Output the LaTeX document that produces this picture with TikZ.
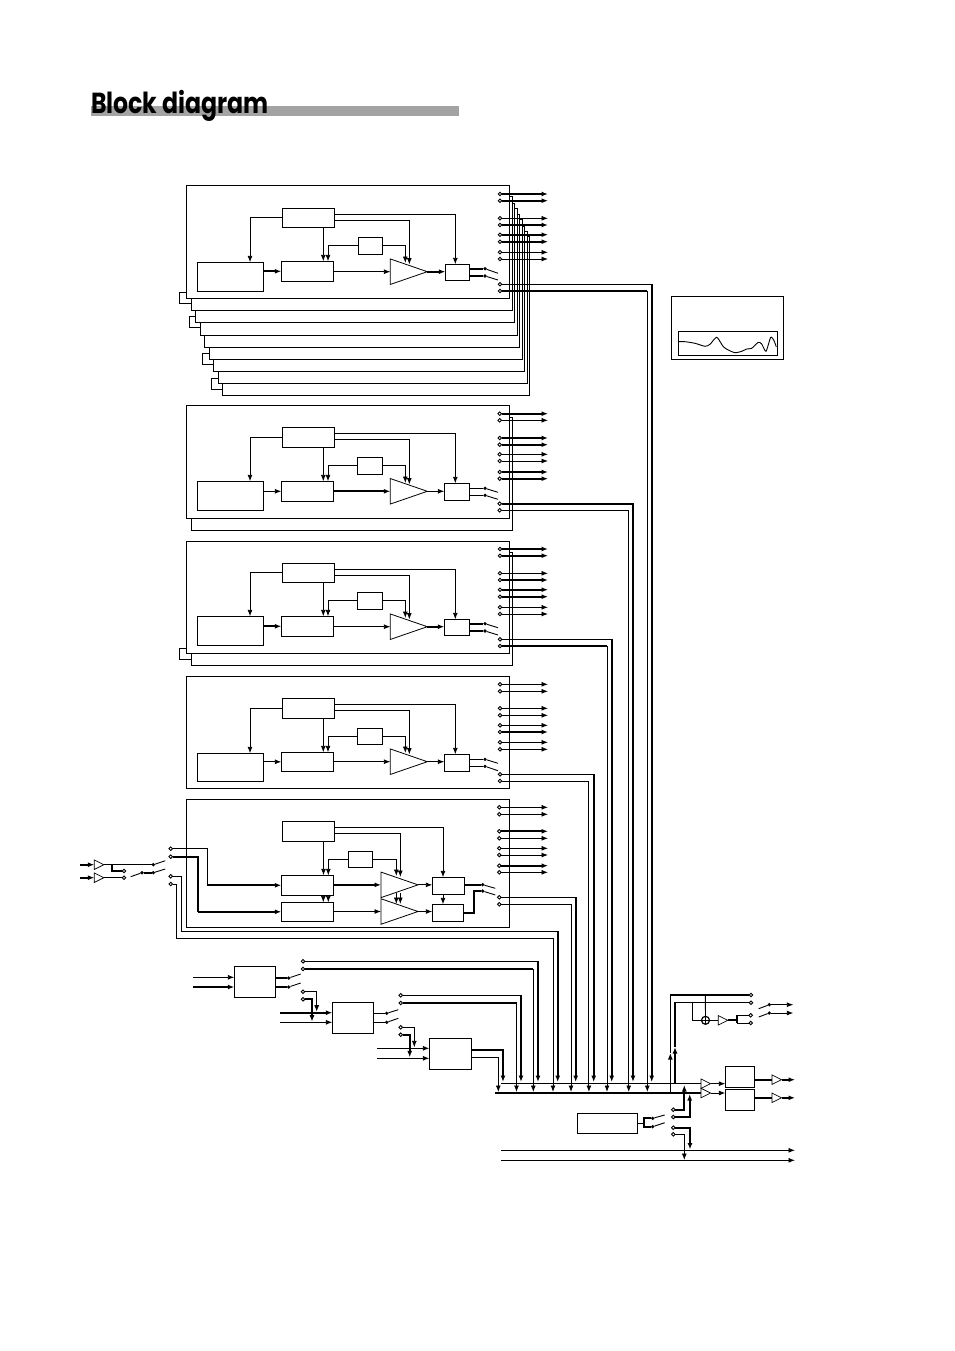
\documentclass[tikz,border=0pt]{standalone}
\usepackage{fontspec}
\usepackage{tikz}
\usetikzlibrary{arrows.meta, fit, shapes.geometric}
\newfontfamily\headfont[FakeStretch=0.815]{Poppins}

\begin{document}
\begin{tikzpicture}[x=1pt,y=-1pt]
\tikzstyle{every node}+=[inner sep=0pt, outer sep=0pt]
\tikzstyle{wire}=[black, line width=0.9pt]
\tikzstyle{fat}=[black, line width=2pt]
\tikzstyle{sig}=[-{Latex[length=6.5pt,width=5pt]}]
\tikzstyle{blk}=[draw, fill=white, rectangle, line width=1pt]
\tikzstyle{term}=[draw, fill=white, circle, minimum size=3.6pt, line width=0.9pt]
\tikzstyle{pivot}=[fill=black, circle, minimum size=3.6pt]
\tikzstyle{gain}=[draw, fill=white, isosceles triangle, isosceles triangle stretches, anchor=lower side, line width=0.8pt, minimum width=25.5pt, minimum height=37pt]
\tikzstyle{tiny}=[draw, fill=white, isosceles triangle, isosceles triangle stretches, anchor=lower side, line width=0.7pt, minimum width=9.5pt, minimum height=9.5pt]
\useasboundingbox (0,0) rectangle (954,1351);

% heading
\node [fill=black!36, fit={(91,106) (459,115.7)}] (bar) {};
\node [anchor=base west, font=\headfont\bfseries\fontsize{29}{29}\selectfont] (head) at (91,113.5) {Block diagram};

% common ends
\coordinate (endo) at (548,0);
\coordinate (endq) at (793.3,0);
\coordinate (endr) at (795,0);

% bus drops
\coordinate (v1a) at (651.7,1082);
\coordinate (v1b) at (647.3,1092);
\coordinate (v2a) at (633,1082);
\coordinate (v2b) at (628.7,1092);
\coordinate (v3a) at (611.7,1082);
\coordinate (v3b) at (607,1092);
\coordinate (v4a) at (593.7,1082);
\coordinate (v4b) at (588.9,1092);
\coordinate (v5a) at (575.7,1082);
\coordinate (v5b) at (571,1092);
\coordinate (v6a) at (557.7,1082);
\coordinate (v6b) at (553,1092);
\coordinate (v7a) at (538,1082);
\coordinate (v7b) at (533.3,1092);
\coordinate (v8a) at (521,1082);
\coordinate (v8b) at (516.5,1092);
\coordinate (v9a) at (503,1082);
\coordinate (v9b) at (498.3,1092);

% stacked frames
\node [blk, fit={(222.3,236) (529.3,395.3)}] (st8) {};
\node [blk, fit={(218.3,231) (527.5,383.3)}] (st7) {};
\node [blk, fit={(213.3,226) (524.3,371.3)}] (st6) {};
\node [blk, fit={(209.3,219.3) (522.5,359.3)}] (st5) {};
\node [blk, fit={(204.3,214.3) (519.5,347.3)}] (st4) {};
\node [blk, fit={(200.3,208.3) (517.5,335)}] (st3) {};
\node [blk, fit={(195.3,203.3) (514.3,322.3)}] (st2) {};
\node [blk, fit={(191.3,196.7) (512.5,310.3)}] (st1) {};
\draw [wire] (186.3,292.3) -- (179.7,292.3) -- (179.7,303.3) -- (191.3,303.3);
\draw [wire] (195.3,316.3) -- (189.3,316.3) -- (189.3,327) -- (200.3,327);
\draw [wire] (209.3,353.3) -- (202.7,353.3) -- (202.7,364) -- (213.3,364);
\draw [wire] (218.3,378.7) -- (211.3,378.7) -- (211.3,389.3) -- (222.3,389.3);

% strip 1
\node [blk, fit={(186.3,186) (509.3,298.3)}] (main1) {};
\node [blk, fit={(282.3,208.3) (334.3,227.3)}] (ctrl1) {};
\node [blk, fit={(197.3,262.3) (263.7,291.3)}] (gen1) {};
\node [blk, fit={(281.3,261.3) (333.7,281.3)}] (filt1) {};
\node [blk, fit={(358.3,237.3) (382.7,254.3)}] (lfo1) {};
\node [gain] (amp1) at (390.3,271.7) {};
\node [blk, fit={(445.3,264.3) (469.7,280.3)}] (pan1) {};
\coordinate (cv1a) at (405.3,263);
\coordinate (cv1b) at (409.3,264.5);
\draw [wire,sig] (ctrl1.west) -| ([xshift=19.5]gen1.north);
\draw [wire,sig] ([xshift=15]ctrl1.south) -- ([xshift=15]ctrl1.south |- filt1.north);
\draw [wire,sig] (lfo1.west) -| ([xshift=20.5]filt1.north);
\draw [wire,sig] (lfo1.east) -| (cv1a);
\draw [wire,sig] ([yshift=-2.5]ctrl1.east) -| (cv1b);
\draw [wire,sig] ([yshift=3.5]ctrl1.east) -| ([xshift=-2.2]pan1.north);
\draw [fat,sig] (gen1.east |- filt1.west) -- (filt1.west);
\draw [wire,sig] (filt1.east |- amp1.lower side) -- (amp1.lower side);
\draw [fat,sig] (amp1.apex) -- (pan1.west |- amp1.apex);
\node [pivot] (d1a) at (485,268.7) {};
\node [pivot] (d1b) at (485,276) {};
\coordinate (b1a) at (498,273.3);
\coordinate (b1b) at (498,280);
\draw [fat] (pan1.east |- d1a) -- (d1a);
\draw [fat] (pan1.east |- d1b) -- (d1b);
\draw [wire] (d1a) -- (b1a);
\draw [wire] (d1b) -- (b1b);
\node [term] (o1a) at (500,194) {};
\node [term] (o1b) at (500,200.7) {};
\node [term] (o1c) at (500,218.3) {};
\node [term] (o1d) at (500,225) {};
\node [term] (o1e) at (500,234.7) {};
\node [term] (o1f) at (500,241.7) {};
\node [term] (o1g) at (500,252.3) {};
\node [term] (o1h) at (500,259) {};
\node [term] (s1a) at (500,284.3) {};
\node [term] (s1b) at (500,291) {};
\draw [fat,sig] (o1a) -- (o1a -| endo);
\draw [fat,sig] (o1b) -- (o1b -| endo);
\draw [wire,sig] (o1c) -- (o1c -| endo);
\draw [fat,sig] (o1d) -- (o1d -| endo);
\draw [fat,sig] (o1e) -- (o1e -| endo);
\draw [fat,sig] (o1f) -- (o1f -| endo);
\draw [wire,sig] (o1g) -- (o1g -| endo);
\draw [wire,sig] (o1h) -- (o1h -| endo);
\draw [wire] (s1a) -- (v1a |- s1a);
\draw [fat,sig] (v1a |- s1a) -- (v1a);
\draw [fat] (s1b) -- (v1b |- s1b);
\draw [wire,sig] (v1b |- s1b) -- (v1b);

% strip 2
\node [blk, fit={(191.3,417.3) (512.3,530)}] (back2) {};
\node [blk, fit={(186.3,405.3) (509.3,518.3)}] (main2) {};
\node [blk, fit={(282.3,427.3) (334.3,447.3)}] (ctrl2) {};
\node [blk, fit={(197.3,481.3) (263.7,510.3)}] (gen2) {};
\node [blk, fit={(281.3,481.3) (333.7,501.3)}] (filt2) {};
\node [blk, fit={(357.3,457.3) (382.7,474.3)}] (lfo2) {};
\node [gain] (amp2) at (390.3,491.3) {};
\node [blk, fit={(444.3,483.3) (469.7,500.3)}] (pan2) {};
\coordinate (cv2a) at (405.3,483);
\coordinate (cv2b) at (409.3,484.5);
\draw [wire,sig] (ctrl2.west) -| ([xshift=19.5]gen2.north);
\draw [wire,sig] ([xshift=15]ctrl2.south) -- ([xshift=15]ctrl2.south |- filt2.north);
\draw [wire,sig] (lfo2.west) -| ([xshift=20.5]filt2.north);
\draw [wire,sig] (lfo2.east) -| (cv2a);
\draw [wire,sig] ([yshift=-2.5]ctrl2.east) -| (cv2b);
\draw [wire,sig] ([yshift=3.5]ctrl2.east) -| ([xshift=-1.7]pan2.north);
\draw [wire,sig] (gen2.east |- filt2.west) -- (filt2.west);
\draw [fat,sig] (filt2.east |- amp2.lower side) -- (amp2.lower side);
\draw [wire,sig] (amp2.apex) -- (pan2.west |- amp2.apex);
\node [pivot] (d2a) at (485,488.3) {};
\node [pivot] (d2b) at (485,495.3) {};
\coordinate (b2a) at (498,492.3);
\coordinate (b2b) at (498,499.3);
\draw [wire] (pan2.east |- d2a) -- (d2a);
\draw [wire] (pan2.east |- d2b) -- (d2b);
\draw [wire] (d2a) -- (b2a);
\draw [wire] (d2b) -- (b2b);
\node [term] (o2a) at (499.7,413.7) {};
\node [term] (o2b) at (499.7,420.3) {};
\node [term] (o2c) at (499.7,438) {};
\node [term] (o2d) at (499.7,444.7) {};
\node [term] (o2e) at (499.7,454.3) {};
\node [term] (o2f) at (499.7,461) {};
\node [term] (o2g) at (499.7,472) {};
\node [term] (o2h) at (499.7,478.7) {};
\node [term] (s2a) at (499.7,503.7) {};
\node [term] (s2b) at (499.7,510.3) {};
\draw [fat,sig] (o2a) -- (o2a -| endo);
\draw [wire,sig] (o2b) -- (o2b -| endo);
\draw [fat,sig] (o2c) -- (o2c -| endo);
\draw [fat,sig] (o2d) -- (o2d -| endo);
\draw [wire,sig] (o2e) -- (o2e -| endo);
\draw [wire,sig] (o2f) -- (o2f -| endo);
\draw [fat,sig] (o2g) -- (o2g -| endo);
\draw [fat,sig] (o2h) -- (o2h -| endo);
\draw [fat,sig] (s2a) -| (v2a);
\draw [wire,sig] (s2b) -| (v2b);

% strip 3
\node [blk, fit={(191.3,552.3) (512.7,665)}] (back3) {};
\draw [wire] (186.3,648.3) -- (179.7,648.3) -- (179.7,659) -- (191.3,659);
\node [blk, fit={(186.3,541) (509.3,653.3)}] (main3) {};
\node [blk, fit={(282.3,563.3) (334.3,582.3)}] (ctrl3) {};
\node [blk, fit={(197.3,616.3) (263.7,645.3)}] (gen3) {};
\node [blk, fit={(281.3,616.3) (333.7,636.3)}] (filt3) {};
\node [blk, fit={(357.3,592.3) (382.7,609.3)}] (lfo3) {};
\node [gain] (amp3) at (390.3,626.7) {};
\node [blk, fit={(444.3,619.3) (469.7,635.3)}] (pan3) {};
\coordinate (cv3a) at (405.3,618);
\coordinate (cv3b) at (409.3,619.5);
\draw [wire,sig] (ctrl3.west) -| ([xshift=19.5]gen3.north);
\draw [wire,sig] ([xshift=15]ctrl3.south) -- ([xshift=15]ctrl3.south |- filt3.north);
\draw [wire,sig] (lfo3.west) -| ([xshift=20.5]filt3.north);
\draw [wire,sig] (lfo3.east) -| (cv3a);
\draw [wire,sig] ([yshift=-2.5]ctrl3.east) -| (cv3b);
\draw [wire,sig] ([yshift=3.5]ctrl3.east) -| ([xshift=-1.7]pan3.north);
\draw [fat,sig] (gen3.east |- filt3.west) -- (filt3.west);
\draw [wire,sig] (filt3.east |- amp3.lower side) -- (amp3.lower side);
\draw [fat,sig] (amp3.apex) -- (pan3.west |- amp3.apex);
\node [pivot] (d3a) at (485,623.7) {};
\node [pivot] (d3b) at (485,631) {};
\coordinate (b3a) at (498,627.7);
\coordinate (b3b) at (498,635);
\draw [fat] (pan3.east |- d3a) -- (d3a);
\draw [fat] (pan3.east |- d3b) -- (d3b);
\draw [wire] (d3a) -- (b3a);
\draw [wire] (d3b) -- (b3b);
\node [term] (o3a) at (500,549) {};
\node [term] (o3b) at (500,555.7) {};
\node [term] (o3c) at (500,573.3) {};
\node [term] (o3d) at (500,580) {};
\node [term] (o3e) at (500,589.7) {};
\node [term] (o3f) at (500,596.7) {};
\node [term] (o3g) at (500,607.3) {};
\node [term] (o3h) at (500,614) {};
\node [term] (s3a) at (500,639.3) {};
\node [term] (s3b) at (500,646) {};
\draw [fat,sig] (o3a) -- (o3a -| endo);
\draw [fat,sig] (o3b) -- (o3b -| endo);
\draw [wire,sig] (o3c) -- (o3c -| endo);
\draw [fat,sig] (o3d) -- (o3d -| endo);
\draw [fat,sig] (o3e) -- (o3e -| endo);
\draw [fat,sig] (o3f) -- (o3f -| endo);
\draw [wire,sig] (o3g) -- (o3g -| endo);
\draw [wire,sig] (o3h) -- (o3h -| endo);
\draw [wire] (s3a) -- (v3a |- s3a);
\draw [fat,sig] (v3a |- s3a) -- (v3a);
\draw [fat] (s3b) -- (v3b |- s3b);
\draw [wire,sig] (v3b |- s3b) -- (v3b);

% strip 4
\node [blk, fit={(186.3,676) (509.3,788.3)}] (main4) {};
\node [blk, fit={(282.3,698.3) (334.3,718.3)}] (ctrl4) {};
\node [blk, fit={(197.3,753.3) (263.7,781.3)}] (gen4) {};
\node [blk, fit={(281.3,752.3) (333.7,771.3)}] (filt4) {};
\node [blk, fit={(357.3,728.3) (382.7,744.3)}] (lfo4) {};
\node [gain] (amp4) at (390.3,761.7) {};
\node [blk, fit={(444.3,754.3) (469.7,771.3)}] (pan4) {};
\coordinate (cv4a) at (405.3,753);
\coordinate (cv4b) at (409.3,754.5);
\draw [wire,sig] (ctrl4.west) -| ([xshift=19.5]gen4.north);
\draw [wire,sig] ([xshift=15]ctrl4.south) -- ([xshift=15]ctrl4.south |- filt4.north);
\draw [wire,sig] (lfo4.west) -| ([xshift=20.5]filt4.north);
\draw [wire,sig] (lfo4.east) -| (cv4a);
\draw [wire,sig] ([yshift=-2.5]ctrl4.east) -| (cv4b);
\draw [wire,sig] ([yshift=3.5]ctrl4.east) -| ([xshift=-1.7]pan4.north);
\draw [wire,sig] (gen4.east |- filt4.west) -- (filt4.west);
\draw [wire,sig] (filt4.east |- amp4.lower side) -- (amp4.lower side);
\draw [wire,sig] (amp4.apex) -- (pan4.west |- amp4.apex);
\node [pivot] (d4a) at (485,759.3) {};
\node [pivot] (d4b) at (485,766.3) {};
\coordinate (b4a) at (498,763.3);
\coordinate (b4b) at (498,770.7);
\draw [wire] (pan4.east |- d4a) -- (d4a);
\draw [wire] (pan4.east |- d4b) -- (d4b);
\draw [wire] (d4a) -- (b4a);
\draw [wire] (d4b) -- (b4b);
\node [term] (o4a) at (500,684.3) {};
\node [term] (o4b) at (500,691.3) {};
\node [term] (o4c) at (500,708.3) {};
\node [term] (o4d) at (500,715.3) {};
\node [term] (o4e) at (500,725.3) {};
\node [term] (o4f) at (500,732) {};
\node [term] (o4g) at (500,742.3) {};
\node [term] (o4h) at (500,749.3) {};
\node [term] (s4a) at (500,774.3) {};
\node [term] (s4b) at (500,781) {};
\draw [wire,sig] (o4a) -- (o4a -| endo);
\draw [wire,sig] (o4b) -- (o4b -| endo);
\draw [wire,sig] (o4c) -- (o4c -| endo);
\draw [wire,sig] (o4d) -- (o4d -| endo);
\draw [wire,sig] (o4e) -- (o4e -| endo);
\draw [fat,sig] (o4f) -- (o4f -| endo);
\draw [wire,sig] (o4g) -- (o4g -| endo);
\draw [wire,sig] (o4h) -- (o4h -| endo);
\draw [wire] (s4a) -- (v4a |- s4a);
\draw [fat,sig] (v4a |- s4a) -- (v4a);
\draw [wire,sig] (s4b) -| (v4b);

% strip 5, the stereo one
\node [blk, fit={(186.3,799.3) (509.3,927.3)}] (main5) {};
\node [blk, fit={(282.3,821.3) (334.7,841.3)}] (ctrl5) {};
\node [blk, fit={(281.3,875.3) (333.3,895.3)}] (filt5a) {};
\node [blk, fit={(281.3,902.3) (333.3,921.3)}] (filt5b) {};
\node [blk, fit={(348.3,851.3) (372.7,867.3)}] (lfo5) {};
\node [gain] (amp5a) at (381,884.85) {};
\node [gain] (amp5b) at (381,911.5) {};
\node [blk, fit={(432.3,877.3) (464.7,894.3)}] (pan5a) {};
\node [blk, fit={(432.3,904.3) (463.7,921.7)}] (pan5b) {};
\coordinate (cv5a) at (396.3,876);
\coordinate (cv5b) at (400.3,877);
\coordinate (cv5c) at (396.3,892.7);
\coordinate (cv5d) at (400.3,892.7);
\coordinate (cv5e) at (396.3,904);
\coordinate (cv5f) at (400.3,904);
\draw [wire,sig] ([xshift=15]ctrl5.south) -- ([xshift=15]ctrl5.south |- filt5a.north);
\draw [wire,sig] (lfo5.west) -| ([xshift=21]filt5a.north);
\draw [wire,sig] (lfo5.east) -| (cv5a);
\draw [wire,sig] ([yshift=-2.5]ctrl5.east) -| (cv5b);
\draw [wire,sig] ([yshift=3.5]ctrl5.east) -| ([xshift=-5.5]pan5a.north);
\draw [wire,sig] ([xshift=16]filt5a.south) -- ([xshift=16]filt5a.south |- filt5b.north);
\draw [wire,sig] ([xshift=21]filt5a.south) -- ([xshift=21]filt5a.south |- filt5b.north);
\draw [wire,sig] (cv5c) -- (cv5e);
\draw [wire,sig] (cv5d) -- (cv5f);
\draw [wire,sig] ([xshift=-5.5]pan5a.south) -- ([xshift=-5.5]pan5a.south |- pan5b.north);
\draw [fat,sig] (filt5a.east |- amp5a.lower side) -- (amp5a.lower side);
\draw [wire,sig] (filt5b.east |- amp5b.lower side) -- (amp5b.lower side);
\draw [wire,sig] (amp5a.apex) -- (pan5a.west |- amp5a.apex);
\draw [wire,sig] (amp5b.apex) -- (pan5b.west |- amp5b.apex);
\node [pivot] (d5a) at (482.7,884.7) {};
\node [pivot] (d5b) at (482.7,891) {};
\coordinate (b5a) at (495.3,888.3);
\coordinate (b5b) at (495.3,895);
\coordinate (c5d) at (474.3,891);
\draw [fat] (pan5a.east |- d5a) -- (d5a);
\draw [fat] (pan5b.east) -| (c5d) -- (d5b);
\draw [wire] (d5a) -- (b5a);
\draw [wire] (d5b) -- (b5b);
\node [term] (o5a) at (499.3,807.3) {};
\node [term] (o5b) at (499.3,814.3) {};
\node [term] (o5c) at (499.3,831.3) {};
\node [term] (o5d) at (499.3,838.3) {};
\node [term] (o5e) at (499.3,848.3) {};
\node [term] (o5f) at (499.3,855) {};
\node [term] (o5g) at (499.3,865.7) {};
\node [term] (o5h) at (499.3,872.3) {};
\node [term] (s5a) at (499.3,897.3) {};
\node [term] (s5b) at (499.3,904.3) {};
\draw [wire,sig] (o5a) -- (o5a -| endo);
\draw [wire,sig] (o5b) -- (o5b -| endo);
\draw [fat,sig] (o5c) -- (o5c -| endo);
\draw [wire,sig] (o5d) -- (o5d -| endo);
\draw [wire,sig] (o5e) -- (o5e -| endo);
\draw [wire,sig] (o5f) -- (o5f -| endo);
\draw [fat,sig] (o5g) -- (o5g -| endo);
\draw [wire,sig] (o5h) -- (o5h -| endo);
\draw [wire] (s5a) -- (v5a |- s5a);
\draw [fat,sig] (v5a |- s5a) -- (v5a);
\draw [wire,sig] (s5b) -| (v5b);

% inputs of strip 5
\coordinate (i6a) at (80,864.7);
\coordinate (i6b) at (80,877.7);
\node [tiny] (pre6a) at (94.3,864.7) {};
\node [tiny] (pre6b) at (94.3,877.7) {};
\draw [fat,sig] (i6a) -- (pre6a.lower side);
\draw [fat,sig] (i6b) -- (pre6b.lower side);
\node [pivot] (d6a) at (153.3,864.7) {};
\node [pivot] (d6b) at (142,872.7) {};
\node [pivot] (d6c) at (153.3,872.7) {};
\coordinate (b6a) at (165.3,860.7);
\coordinate (b6b) at (130.7,876.7);
\coordinate (b6c) at (165.3,869);
\coordinate (j6) at (112.3,864.7);
\node [term] (t6a) at (124,871) {};
\node [term] (t6b) at (124,877.7) {};
\draw [wire] (pre6a.apex) -- (d6a);
\draw [wire] (pre6b.apex) -- (t6b);
\draw [fat] (j6) |- (t6a);
\draw [wire] (d6a) -- (b6a);
\draw [wire] (b6b) -- (d6b);
\draw [fat] (d6b) -- (d6c);
\draw [wire] (d6c) -- (b6c);
\node [term] (t6c) at (170.7,848.7) {};
\node [term] (t6d) at (170.7,856.7) {};
\node [term] (t6e) at (170.7,876.3) {};
\node [term] (t6f) at (170.7,884) {};
\coordinate (c6a) at (207.3,885.3);
\coordinate (c6b) at (197.7,911.8);
\coordinate (c6c) at (181,931.3);
\coordinate (c6d) at (176,938.3);
\draw [wire] (t6c) -| (c6a);
\draw [fat,sig] (c6a) -- (filt5a.west |- c6a);
\draw [fat] (t6d) -| (c6b);
\draw [fat,sig] (c6b) -- (filt5b.west |- c6b);
\draw [wire] (t6e) -| (c6c) -- (v6a |- c6c);
\draw [fat,sig] (v6a |- c6c) -- (v6a);
\draw [wire] (t6f) -| (c6d) -- (v6b |- c6d);
\draw [wire,sig] (v6b |- c6d) -- (v6b);

% box a
\coordinate (i7a) at (193,977.3);
\coordinate (i7b) at (193,987);
\node [blk, fit={(234.3,966.3) (275.7,997.3)}] (ins7) {};
\draw [wire,sig] (i7a) -- (ins7.west |- i7a);
\draw [fat,sig] (i7b) -- (ins7.west |- i7b);
\node [pivot] (d7a) at (288.7,978) {};
\node [pivot] (d7b) at (288.7,987) {};
\coordinate (b7a) at (300.7,974);
\coordinate (b7b) at (300.7,983);
\draw [fat] (ins7.east |- d7a) -- (d7a);
\draw [fat] (ins7.east |- d7b) -- (d7b);
\draw [wire] (d7a) -- (b7a);
\draw [wire] (d7b) -- (b7b);
\node [term] (s7a) at (303,961.3) {};
\node [term] (s7b) at (303,969) {};
\draw [wire] (s7a) -- (v7a |- s7a);
\draw [fat,sig] (v7a |- s7a) -- (v7a);
\draw [fat] (s7b) -- (v7b |- s7b);
\draw [wire,sig] (v7b |- s7b) -- (v7b);

% box b
\coordinate (i8a) at (280,1012.7);
\coordinate (i8b) at (280,1022.3);
\node [blk, fit={(332.3,1002.3) (373.7,1033.3)}] (ins8) {};
\draw [fat,sig] (i8a) -- (ins8.west |- i8a);
\draw [wire,sig] (i8b) -- (ins8.west |- i8b);
\node [term] (r8a) at (303,991.7) {};
\node [term] (r8b) at (303,999.3) {};
\coordinate (k8a) at (316.7,1011.7);
\coordinate (k8b) at (312,1021.7);
\draw [wire,sig] (r8a) -| (k8a);
\draw [fat,sig] (r8b) -| (k8b);
\node [pivot] (d8a) at (386.7,1013.3) {};
\node [pivot] (d8b) at (386.7,1022.3) {};
\coordinate (b8a) at (398.3,1009.7);
\coordinate (b8b) at (398.3,1018.3);
\draw [wire] (ins8.east |- d8a) -- (d8a);
\draw [wire] (ins8.east |- d8b) -- (d8b);
\draw [wire] (d8a) -- (b8a);
\draw [wire] (d8b) -- (b8b);
\node [term] (s8a) at (400.7,995.3) {};
\node [term] (s8b) at (400.7,1003) {};
\draw [wire] (s8a) -- (v8a |- s8a);
\draw [fat,sig] (v8a |- s8a) -- (v8a);
\draw [fat] (s8b) -- (v8b |- s8b);
\draw [wire,sig] (v8b |- s8b) -- (v8b);

% box c
\coordinate (i9a) at (377,1048.3);
\coordinate (i9b) at (377,1058.3);
\node [blk, fit={(429.3,1038.3) (471.7,1069.3)}] (ins9) {};
\draw [wire,sig] (i9a) -- (ins9.west |- i9a);
\draw [wire,sig] (i9b) -- (ins9.west |- i9b);
\node [term] (r9a) at (400.7,1027.3) {};
\node [term] (r9b) at (400.7,1034.7) {};
\coordinate (k9a) at (414.3,1047.3);
\coordinate (k9b) at (409.7,1057.3);
\draw [wire,sig] (r9a) -| (k9a);
\draw [fat,sig] (r9b) -| (k9b);
\coordinate (s9a) at (471.7,1049.7);
\coordinate (s9b) at (471.7,1057.3);
\draw [fat,sig] (s9a) -| (v9a);
\draw [wire,sig] (s9b) -| (v9b);

% mix bus
\node [tiny] (mix1) at (701,1083.7) {};
\node [tiny] (mix2) at (701,1093) {};
\coordinate (bus1) at (501,1083.7);
\coordinate (bus2) at (495,1093);
\draw [wire] (bus1) -- (mix1.lower side);
\draw [fat] (bus2) -- (mix2.lower side);
\node [blk, fit={(725.3,1066.3) (754.7,1087.3)}] (dac1) {};
\node [blk, fit={(725.3,1089.3) (754.7,1110.7)}] (dac2) {};
\draw [wire,sig] (mix1.apex) -- (dac1.west |- mix1.apex);
\draw [wire,sig] (mix2.apex) -- (dac2.west |- mix2.apex);
\node [tiny] (hp1) at (772,1079.7) {};
\node [tiny] (hp2) at (772,1097.8) {};
\draw [fat] (dac1.east |- hp1.lower side) -- (hp1.lower side);
\draw [fat] (dac2.east |- hp2.lower side) -- (hp2.lower side);
\draw [fat,sig] (hp1.apex) -- (hp1.apex -| endr);
\draw [fat,sig] (hp2.apex) -- (hp2.apex -| endr);

% phones branch
\node [term] (p1) at (751,995) {};
\node [term] (p2) at (751,1002.7) {};
\coordinate (ua) at (670.3,1093);
\coordinate (ub) at (670.3,1053);
\coordinate (uc) at (675,1083.7);
\coordinate (ud) at (675,1047);
\draw [wire,sig,line width=1.3pt] (ua) -- (ub);
\draw [wire,sig,line width=1.3pt] (uc) -- (ud);
\draw [wire,line width=1.3pt] (ub) |- (p1);
\draw [wire,line width=1.3pt] (ud) |- (p2);
\coordinate (j7a) at (705.3,995);
\coordinate (j7b) at (692,1002.7);
\node [circle, draw, fill=white, line width=1.2pt, minimum size=8pt, path picture={\draw [wire] (path picture bounding box.north) -- (path picture bounding box.south); \draw [wire] (path picture bounding box.west) -- (path picture bounding box.east);}] (sum) at (705.5,1020.3) {};
\draw [wire] (j7a) -- (sum.north);
\draw [wire] (j7b) |- (sum.west);
\node [tiny] (hpa) at (718.3,1020.3) {};
\draw [wire] (sum.east) -- (hpa.lower side);
\coordinate (j7c) at (737.3,1020.3);
\node [term] (p3) at (750.7,1015.3) {};
\node [term] (p4) at (750.7,1023) {};
\draw [fat] (hpa.apex) -- (j7c);
\draw [fat] (p3 -| j7c) -- (p4 -| j7c);
\draw [wire] (p3) -- (p3 -| j7c);
\draw [wire] (p4) -- (p4 -| j7c);
\node [pivot] (d9a) at (769.3,1004.7) {};
\node [pivot] (d9b) at (769.3,1013) {};
\coordinate (b9a) at (758.7,1008.7);
\coordinate (b9b) at (758.7,1017);
\draw [wire] (b9a) -- (d9a);
\draw [wire] (b9b) -- (d9b);
\draw [wire,sig] (d9a) -- (d9a -| endq);
\draw [wire,sig] (d9b) -- (d9b -| endq);

% lower box and aux lines
\node [blk, fit={(577.3,1113.3) (637.7,1133.3)}] (fx) {};
\coordinate (j8) at (644.3,1123.3);
\node [pivot] (dxa) at (652.7,1118.3) {};
\node [pivot] (dxb) at (652.7,1126.7) {};
\coordinate (bxa) at (664.7,1115);
\coordinate (bxb) at (664.7,1122.7);
\draw [wire] (fx.east) -- (j8);
\draw [fat] (dxa) -| (j8);
\draw [fat] (dxb) -| (j8);
\draw [wire] (dxa) -- (bxa);
\draw [wire] (dxb) -- (bxb);
\node [term] (q1) at (673.3,1109.7) {};
\node [term] (q2) at (673.3,1117) {};
\node [term] (q3) at (673.3,1127.7) {};
\node [term] (q4) at (673.3,1134.3) {};
\coordinate (ret1) at (684.3,1085);
\coordinate (ret2) at (689.7,1094);
\coordinate (ret3) at (690,1149.5);
\coordinate (ret4) at (684.3,1160);
\draw [fat,sig] (q1) -| (ret1);
\draw [fat,sig] (q2) -| (ret2);
\draw [fat,sig] (q3) -| (ret3);
\draw [wire,sig] (q4) -| (ret4);
\coordinate (aux1) at (501,1150.3);
\coordinate (aux2) at (501,1160.3);
\draw [wire,sig] (aux1) -- (aux1 -| endr);
\draw [wire,sig] (aux2) -- (aux2 -| endr);

% response display
\node [blk, fit={(671.7,296.7) (783.3,359)}] (disp) {};
\node [blk, fit={(678.3,331.3) (777.7,355.3)}] (screen) {};
\draw [wire] plot [smooth, tension=0.4] coordinates {(678.7,341.7) (685,341.7) (695,343.3) (705,346.3) (710,344.3) (716.7,337.3) (723.3,346.7) (728.3,350) (735,352.7) (741.7,351.3) (746.7,349) (751.7,348.3) (758.3,342.3) (761.7,344) (766,351.3) (770.7,337.3) (774,340.7) (776.3,347)};
\end{tikzpicture}
\end{document}
